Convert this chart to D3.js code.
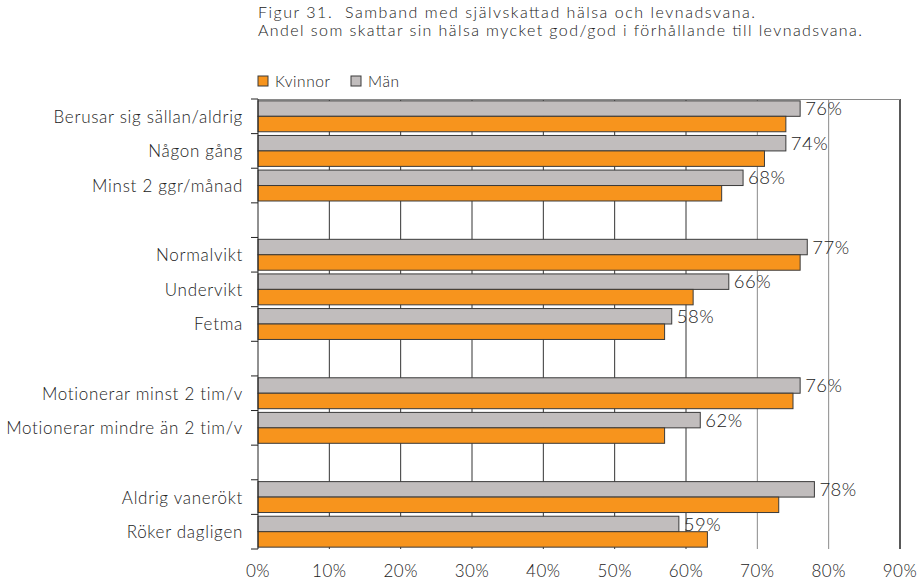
<!DOCTYPE html>
<html><head><meta charset="utf-8">
<script src="https://cdn.jsdelivr.net/npm/d3@7"></script>
<style>
body{margin:0;background:#fff;}
text{font-family:Lato,"Open Sans",sans-serif;font-weight:300;fill:#222;white-space:pre;}
</style></head>
<body><svg id="c" width="918" height="582"></svg>
<script>
const titleLines = ["Figur 31.  Samband med självskattad hälsa och levnadsvana.",
  "Andel som skattar sin hälsa mycket god/god i förhållande till levnadsvana."];
const titleWidths = [497, 604];
const categories = ["Berusar sig sällan/aldrig","Någon gång","Minst 2 ggr/månad",
  "Normalvikt","Undervikt","Fetma",
  "Motionerar minst 2 tim/v","Motionerar mindre än 2 tim/v",
  "Aldrig vanerökt","Röker dagligen"];
const groupSizes = [3,3,2,2];
const seriesNames = ["Kvinnor","Män"];
const kvinnor = [74,71,65,76,61,57,75,57,73,63];
const man = [76,74,68,77,66,58,76,62,78,59];
const xTicks = [0,10,20,30,40,50,60,70,80,90];

const svg = d3.select("#c");
const L = 258, R = 900, T = 99, B = 549;

const slots = [];
let ci = 0;
groupSizes.forEach((n,gi)=>{
  for(let k=0;k<n;k++){ slots.push({key:"c"+ci, idx:ci}); ci++; }
  if(gi<groupSizes.length-1) slots.push({key:"gap"+gi, idx:null});
});
const y = d3.scaleBand().domain(slots.map(s=>s.key)).range([T,B]).padding(0);
const inner = d3.scaleBand().domain(["Män","Kvinnor"]).range([0,y.bandwidth()]).paddingInner(0).paddingOuter(0.12);
const x = d3.scaleLinear().domain([0,90]).range([L,R]);

// title
svg.selectAll(".title").data(titleLines).join("text")
  .attr("x",L).attr("y",(d,i)=>18+i*18).attr("font-size",16)
  .attr("textLength",(d,i)=>titleWidths[i]).attr("lengthAdjust","spacing").text(d=>d);

// gridlines
svg.append("g").selectAll("line").data(xTicks.slice(1)).join("line")
  .attr("x1",d=>x(d)).attr("x2",d=>x(d)).attr("y1",T).attr("y2",B)
  .attr("stroke",d=>d===90?"#222":(d>=70?"#8a8a8a":"#333")).attr("stroke-width",d=>d===90?1.5:1);
svg.append("line").attr("x1",L).attr("x2",R).attr("y1",T+0.5).attr("y2",T+0.5).attr("stroke","#8a8a8a");

// bars
const cats = slots.filter(s=>s.idx!==null);
const colors = {"Kvinnor":"#F7941D","Män":"#C1BDBD"};
const vals = {"Kvinnor":kvinnor,"Män":man};
["Män","Kvinnor"].forEach(sn=>{
  svg.append("g").selectAll("rect").data(cats).join("rect")
    .attr("x",x(0)).attr("y",d=>y(d.key)+inner(sn))
    .attr("width",d=>x(vals[sn][d.idx])-x(0)).attr("height",inner.bandwidth())
    .attr("fill",colors[sn]).attr("stroke","#3a3a3a").attr("stroke-width",1);
});
// value labels for men
svg.append("g").selectAll("text").data(cats).join("text")
  .attr("x",d=>x(man[d.idx])+5).attr("y",d=>y(d.key)+inner("Män")+inner.bandwidth()/2)
  .attr("dy","0.36em").attr("font-size",18.5).attr("letter-spacing",0.5).text(d=>man[d.idx]+"%");

// y axis
svg.append("line").attr("x1",L).attr("x2",L).attr("y1",T).attr("y2",B).attr("stroke","#222");
const bounds = d3.range(slots.length+1).map(i=>T+i*y.step());
svg.append("g").selectAll("line").data(bounds).join("line")
  .attr("x1",L-7).attr("x2",L).attr("y1",d=>d).attr("y2",d=>d).attr("stroke","#222");
svg.append("g").selectAll("text").data(cats).join("text")
  .attr("x",243).attr("y",d=>y(d.key)+y.bandwidth()/2).attr("dy","0.38em")
  .attr("text-anchor","end").attr("font-size",17).attr("letter-spacing",0.7).text(d=>categories[d.idx]);

// x axis labels
svg.append("g").selectAll("text").data(xTicks).join("text")
  .attr("x",d=>x(d)).attr("y",577).attr("text-anchor","middle").attr("font-size",17)
  .attr("letter-spacing",0.5).text(d=>d+"%");

// legend
const lg = svg.append("g");
const legX = [258,351];
seriesNames.forEach((sn,i)=>{
  lg.append("rect").attr("x",legX[i]).attr("y",76).attr("width",10).attr("height",10)
    .attr("fill",colors[sn]).attr("stroke","#3a3a3a");
  lg.append("text").attr("x",legX[i]+17).attr("y",87).attr("font-size",15.5)
    .attr("letter-spacing",0.6).text(sn);
});
</script></body></html>
